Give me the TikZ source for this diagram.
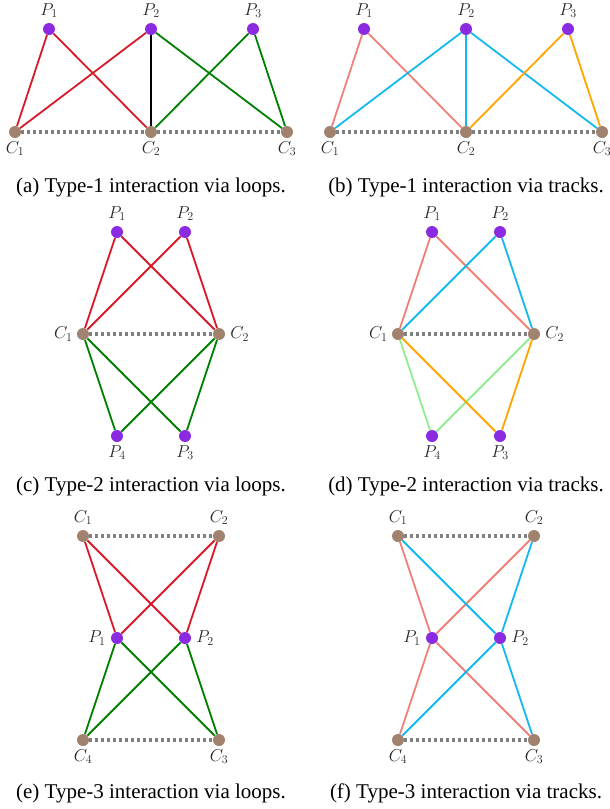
\documentclass[tikz,border=0pt]{standalone}
\usepackage{fontspec}
\setmainfont{Liberation Serif}
\usetikzlibrary{positioning,backgrounds}
\definecolor{lred}{RGB}{215,25,40}
\definecolor{lgreen}{RGB}{0,128,0}
\definecolor{lsalmon}{RGB}{240,128,120}
\definecolor{lcyan}{RGB}{20,185,240}
\definecolor{lorange}{RGB}{255,165,0}
\definecolor{llgreen}{RGB}{144,238,144}
\definecolor{pcol}{RGB}{138,43,226}
\definecolor{ccol}{RGB}{160,130,110}
\definecolor{dotgray}{RGB}{128,128,128}
\tikzset{
 pn/.style={circle,fill=pcol,inner sep=0pt,minimum size=12pt},
 cn/.style={circle,fill=ccol,inner sep=0pt,minimum size=12pt},
 lbl/.style={inner sep=1pt,text=black!85,font=\fontsize{16.5}{19}\selectfont},
 captxt/.style={anchor=base,inner sep=0pt,font=\fontsize{21}{25}\selectfont},
 lnk/.style={line width=1.8pt},
 dotl/.style={line width=3.5pt,draw=dotgray,dash pattern=on 3pt off 3pt},
}
\begin{document}
\begin{tikzpicture}[x=1pt,y=-1pt]
\useasboundingbox (0,0) rectangle (610,809);
% ---------------- (a)
\node[pn] (aP1) at (49,29) {};
\node[pn] (aP2) at (151,29) {};
\node[pn] (aP3) at (253,29) {};
\node[cn] (aC1) at (15,132) {};
\node[cn] (aC2) at (151,132) {};
\node[cn] (aC3) at (287,132) {};
\node[lbl,above=4pt of aP1] (aL1) {$P_1$};
\node[lbl,above=4pt of aP2] (aL2) {$P_2$};
\node[lbl,above=4pt of aP3] (aL3) {$P_3$};
\node[lbl,below=2pt of aC1] (aL4) {$C_1$};
\node[lbl,below=2pt of aC2] (aL5) {$C_2$};
\node[lbl,below=2pt of aC3] (aL6) {$C_3$};
\node[captxt] (acap) at (151,192) {(a) Type-1 interaction via loops.};
\begin{scope}[on background layer]
\draw[dotl] (aC1) -- (aC2);
\draw[dotl] (aC2) -- (aC3);
\draw[lnk,lred] (aP1) -- (aC1);
\draw[lnk,lred] (aP1) -- (aC2);
\draw[lnk,lred] (aP2) -- (aC1);
\draw[lnk,lgreen] (aP2) -- (aC3);
\draw[lnk,lgreen] (aP3) -- (aC2);
\draw[lnk,lgreen] (aP3) -- (aC3);
\draw[line width=2.4pt,black] (aP2) -- (aC2);
\end{scope}
% ---------------- (b)
\node[pn] (bP1) at (364,29) {};
\node[pn] (bP2) at (466,29) {};
\node[pn] (bP3) at (568,29) {};
\node[cn] (bC1) at (330,132) {};
\node[cn] (bC2) at (466,132) {};
\node[cn] (bC3) at (602,132) {};
\node[lbl,above=4pt of bP1] (bL1) {$P_1$};
\node[lbl,above=4pt of bP2] (bL2) {$P_2$};
\node[lbl,above=4pt of bP3] (bL3) {$P_3$};
\node[lbl,below=2pt of bC1] (bL4) {$C_1$};
\node[lbl,below=2pt of bC2] (bL5) {$C_2$};
\node[lbl,below=2pt of bC3] (bL6) {$C_3$};
\node[captxt] (bcap) at (466,192) {(b) Type-1 interaction via tracks.};
\begin{scope}[on background layer]
\draw[dotl] (bC1) -- (bC2);
\draw[dotl] (bC2) -- (bC3);
\draw[lnk,lsalmon] (bP1) -- (bC1);
\draw[lnk,lsalmon] (bP1) -- (bC2);
\draw[lnk,lcyan] (bP2) -- (bC1);
\draw[lnk,lcyan] (bP2) -- (bC2);
\draw[lnk,lcyan] (bP2) -- (bC3);
\draw[lnk,lorange] (bP3) -- (bC2);
\draw[lnk,lorange] (bP3) -- (bC3);
\end{scope}
% ---------------- (c)
\node[pn] (cP1) at (117,232) {};
\node[pn] (cP2) at (185,232) {};
\node[cn] (cC1) at (83,334) {};
\node[cn] (cC2) at (219,334) {};
\node[pn] (cP4) at (117,436) {};
\node[pn] (cP3) at (185,436) {};
\node[lbl,above=4pt of cP1] (cL1) {$P_1$};
\node[lbl,above=4pt of cP2] (cL2) {$P_2$};
\node[lbl,below=2pt of cP4] (cL3) {$P_4$};
\node[lbl,below=2pt of cP3] (cL4) {$P_3$};
\node[lbl,left=3pt of cC1] (cL5) {$C_1$};
\node[lbl,right=4pt of cC2] (cL6) {$C_2$};
\node[captxt] (ccap) at (151,491) {(c) Type-2 interaction via loops.};
\begin{scope}[on background layer]
\draw[dotl] (cC1) -- (cC2);
\draw[lnk,lred] (cP1) -- (cC1);
\draw[lnk,lred] (cP1) -- (cC2);
\draw[lnk,lred] (cP2) -- (cC1);
\draw[lnk,lred] (cP2) -- (cC2);
\draw[lnk,lgreen] (cC1) -- (cP4);
\draw[lnk,lgreen] (cC1) -- (cP3);
\draw[lnk,lgreen] (cC2) -- (cP4);
\draw[lnk,lgreen] (cC2) -- (cP3);
\end{scope}
% ---------------- (d)
\node[pn] (dP1) at (432,232) {};
\node[pn] (dP2) at (500,232) {};
\node[cn] (dC1) at (398,334) {};
\node[cn] (dC2) at (534,334) {};
\node[pn] (dP4) at (432,436) {};
\node[pn] (dP3) at (500,436) {};
\node[lbl,above=4pt of dP1] (dL1) {$P_1$};
\node[lbl,above=4pt of dP2] (dL2) {$P_2$};
\node[lbl,below=2pt of dP4] (dL3) {$P_4$};
\node[lbl,below=2pt of dP3] (dL4) {$P_3$};
\node[lbl,left=3pt of dC1] (dL5) {$C_1$};
\node[lbl,right=4pt of dC2] (dL6) {$C_2$};
\node[captxt] (dcap) at (466,491) {(d) Type-2 interaction via tracks.};
\begin{scope}[on background layer]
\draw[dotl] (dC1) -- (dC2);
\draw[lnk,lsalmon] (dP1) -- (dC1);
\draw[lnk,lsalmon] (dP1) -- (dC2);
\draw[lnk,lcyan] (dP2) -- (dC1);
\draw[lnk,lcyan] (dP2) -- (dC2);
\draw[lnk,llgreen] (dC1) -- (dP4);
\draw[lnk,llgreen] (dC2) -- (dP4);
\draw[lnk,lorange] (dC1) -- (dP3);
\draw[lnk,lorange] (dC2) -- (dP3);
\end{scope}
% ---------------- (e)
\node[cn] (eC1) at (83,536) {};
\node[cn] (eC2) at (219,536) {};
\node[pn] (eP1) at (117,638) {};
\node[pn] (eP2) at (185,638) {};
\node[cn] (eC4) at (83,740) {};
\node[cn] (eC3) at (219,740) {};
\node[lbl,above=4pt of eC1] (eL1) {$C_1$};
\node[lbl,above=4pt of eC2] (eL2) {$C_2$};
\node[lbl,below=2pt of eC4] (eL3) {$C_4$};
\node[lbl,below=2pt of eC3] (eL4) {$C_3$};
\node[lbl,left=4pt of eP1] (eL5) {$P_1$};
\node[lbl,right=4pt of eP2] (eL6) {$P_2$};
\node[captxt] (ecap) at (151,798) {(e) Type-3 interaction via loops.};
\begin{scope}[on background layer]
\draw[dotl] (eC1) -- (eC2);
\draw[dotl] (eC4) -- (eC3);
\draw[lnk,lred] (eC1) -- (eP1);
\draw[lnk,lred] (eC1) -- (eP2);
\draw[lnk,lred] (eC2) -- (eP1);
\draw[lnk,lred] (eC2) -- (eP2);
\draw[lnk,lgreen] (eP1) -- (eC4);
\draw[lnk,lgreen] (eP1) -- (eC3);
\draw[lnk,lgreen] (eP2) -- (eC4);
\draw[lnk,lgreen] (eP2) -- (eC3);
\end{scope}
% ---------------- (f)
\node[cn] (fC1) at (398,536) {};
\node[cn] (fC2) at (534,536) {};
\node[pn] (fP1) at (432,638) {};
\node[pn] (fP2) at (500,638) {};
\node[cn] (fC4) at (398,740) {};
\node[cn] (fC3) at (534,740) {};
\node[lbl,above=4pt of fC1] (fL1) {$C_1$};
\node[lbl,above=4pt of fC2] (fL2) {$C_2$};
\node[lbl,below=2pt of fC4] (fL3) {$C_4$};
\node[lbl,below=2pt of fC3] (fL4) {$C_3$};
\node[lbl,left=4pt of fP1] (fL5) {$P_1$};
\node[lbl,right=4pt of fP2] (fL6) {$P_2$};
\node[captxt] (fcap) at (466,798) {(f) Type-3 interaction via tracks.};
\begin{scope}[on background layer]
\draw[dotl] (fC1) -- (fC2);
\draw[dotl] (fC4) -- (fC3);
\draw[lnk,lsalmon] (fC1) -- (fP1);
\draw[lnk,lsalmon] (fC2) -- (fP1);
\draw[lnk,lsalmon] (fP1) -- (fC4);
\draw[lnk,lsalmon] (fP1) -- (fC3);
\draw[lnk,lcyan] (fC1) -- (fP2);
\draw[lnk,lcyan] (fC2) -- (fP2);
\draw[lnk,lcyan] (fP2) -- (fC4);
\draw[lnk,lcyan] (fP2) -- (fC3);
\end{scope}
\end{tikzpicture}
\end{document}
